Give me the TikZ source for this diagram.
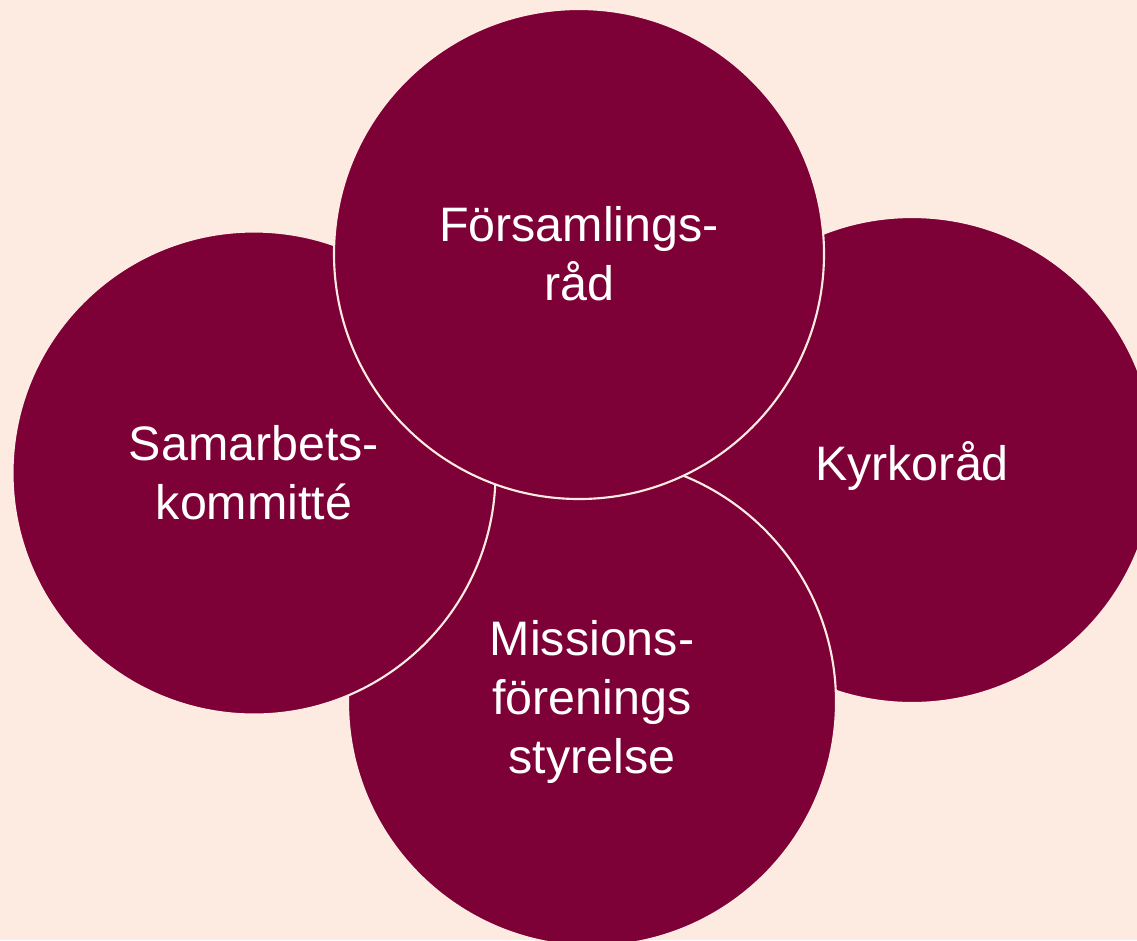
\documentclass[tikz,border=0pt]{standalone}
\usepackage{fontspec}
\setmainfont{Liberation Sans}
\definecolor{bgpeach}{RGB}{253,235,226}
\definecolor{maroon}{RGB}{125,0,54}
\begin{document}
\begin{tikzpicture}[x=0.75pt,y=-0.75pt,
  bubble/.style={circle, fill=maroon, draw=bgpeach, line width=1.6pt, inner sep=0pt,
    text=white, align=center, font=\fontsize{36.3}{44.5}\selectfont}]
\fill[bgpeach] (0,0) rectangle (1137,940);
\useasboundingbox (0,0) rectangle (1137,940);
\clip (0,0) rectangle (1137,940);
\node[bubble, minimum size=364.5pt, text height=38pt] (kyrko) at (912,460) {Kyrkoråd};
\node[bubble, minimum size=366pt] (mission) at (592,702) {Missions-\\förenings\\styrelse};
\node[bubble, minimum size=362.25pt] (samarb) at (254,473) {Samarbets-\\kommitté};
\node[bubble, minimum size=367.5pt] (forsaml) at (579,254) {Församlings-\\råd};
\end{tikzpicture}
\end{document}
